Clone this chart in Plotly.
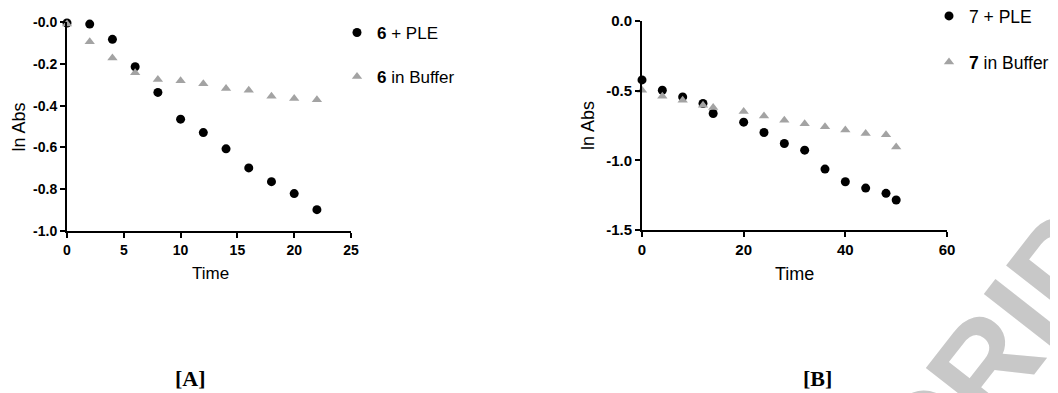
import plotly.graph_objects as go

# Panel A data
time_a = [0, 2, 4, 6, 8, 10, 12, 14, 16, 18, 20, 22]
ple_a = [-0.005, -0.01, -0.083, -0.214, -0.337, -0.465, -0.529, -0.607, -0.698, -0.764, -0.821, -0.898]
buf_a = [-0.01, -0.094, -0.172, -0.243, -0.275, -0.281, -0.296, -0.318, -0.326, -0.355, -0.366, -0.372]

# Panel B data
time_b = [0, 4, 8, 12, 14, 20, 24, 28, 32, 36, 40, 44, 48, 50]
ple_b = [-0.423, -0.497, -0.545, -0.592, -0.664, -0.726, -0.800, -0.879, -0.927, -1.063, -1.154, -1.199, -1.237, -1.285]
buf_b = [-0.497, -0.540, -0.568, -0.604, -0.621, -0.650, -0.681, -0.712, -0.738, -0.759, -0.783, -0.807, -0.817, -0.905]

xticks_a = [0, 5, 10, 15, 20, 25]
yticks_a = [0, -0.2, -0.4, -0.6, -0.8, -1.0]
yticklabels_a = ["-0.0", "-0.2", "-0.4", "-0.6", "-0.8", "-1.0"]
xticks_b = [0, 20, 40, 60]
yticks_b = [0, -0.5, -1.0, -1.5]
yticklabels_b = ["0.0", "-0.5", "-1.0", "-1.5"]

names = ["<b>6</b> + PLE", "<b>6</b> in Buffer", "7 + PLE", "<b>7</b> in Buffer"]

# the page body has an 8px margin; the figure fills the rest of the 1058x393 window
OFF = 8
W, H = 1058 - OFF, 393 - OFF
FONT = "Liberation Sans, Arial, sans-serif"
SERIF = "Liberation Serif, Times New Roman, serif"
GRAY = "#a3a3a3"


def px_x(p):
    return (p - OFF) / W


def px_y(p):
    return 1 - (p - OFF) / H


fig = go.Figure()

fig.add_trace(go.Scatter(x=time_a, y=ple_a, mode="markers", name=names[0],
                         marker=dict(symbol="circle", size=9, color="black"),
                         xaxis="x", yaxis="y", cliponaxis=False, legend="legend"))
fig.add_trace(go.Scatter(x=time_a, y=buf_a, mode="markers", name=names[1],
                         marker=dict(symbol="triangle-up", size=9, color=GRAY),
                         xaxis="x", yaxis="y", cliponaxis=False, legend="legend2"))
fig.add_trace(go.Scatter(x=time_b, y=ple_b, mode="markers", name=names[2],
                         marker=dict(symbol="circle", size=9, color="black"),
                         xaxis="x2", yaxis="y2", cliponaxis=False, legend="legend3"))
fig.add_trace(go.Scatter(x=time_b, y=buf_b, mode="markers", name=names[3],
                         marker=dict(symbol="triangle-up", size=9, color=GRAY),
                         xaxis="x2", yaxis="y2", cliponaxis=False, legend="legend4"))


def axis(tsize, **kw):
    d = dict(showline=True, linewidth=2, linecolor="black", ticks="outside",
             ticklen=5, tickwidth=2, tickcolor="black", showgrid=False,
             zeroline=False, mirror=False, automargin=False,
             tickfont=dict(family=FONT, size=tsize, color="black", weight="bold"))
    d.update(kw)
    return d


def leg(x, y, size):
    return dict(x=px_x(x), y=px_y(y), xanchor="left", yanchor="top",
                font=dict(size=size, family=FONT, color="black"),
                bgcolor="rgba(0,0,0,0)", borderwidth=0)


fig.update_layout(
    width=W, height=H,
    margin=dict(l=0, r=0, t=0, b=0, autoexpand=False),
    paper_bgcolor="white", plot_bgcolor="white",
    font=dict(family=FONT, color="black"),
    xaxis=axis(14, domain=[px_x(67), px_x(351)], range=[0, 25], tickvals=xticks_a, anchor="y"),
    yaxis=axis(14, domain=[px_y(231), px_y(22)], range=[-1.0, 0], tickvals=yticks_a,
               ticktext=yticklabels_a, anchor="x"),
    xaxis2=axis(15, domain=[px_x(642), px_x(947)], range=[0, 60], tickvals=xticks_b, anchor="y2"),
    yaxis2=axis(15, domain=[px_y(230), px_y(21)], range=[-1.5, 0], tickvals=yticks_b,
                ticktext=yticklabels_b, anchor="x2"),
    legend=leg(337, 15, 17),
    legend2=leg(337, 59, 17),
    legend3=leg(929, -2, 17.5),
    legend4=leg(929, 44, 17.5),
    showlegend=True,
)

# axis titles
for txt, x, y, ang, size in [("Time", 210, 273, 0, 17), ("ln Abs", 18.5, 127, -90, 18),
                             ("Time", 794, 274, 0, 18), ("ln Abs", 588, 126, -90, 18)]:
    fig.add_annotation(text=txt, x=px_x(x), y=px_y(y), xref="paper", yref="paper",
                       showarrow=False, xanchor="center", yanchor="middle", textangle=ang,
                       font=dict(family=FONT, size=size, color="black"))

fig.add_annotation(text="[A]", x=px_x(190), y=px_y(378), xref="paper", yref="paper",
                   showarrow=False, xanchor="center", yanchor="middle",
                   font=dict(family=SERIF, size=22, color="black", weight="bold"))
fig.add_annotation(text="[B]", x=px_x(817), y=px_y(378), xref="paper", yref="paper",
                   showarrow=False, xanchor="center", yanchor="middle",
                   font=dict(family=SERIF, size=22, color="black", weight="bold"))

# faint watermark
fig.add_annotation(text="ACCEPTED MANUSCRIPT", x=px_x(640), y=px_y(806), xref="paper",
                   yref="paper", showarrow=False, xanchor="center", yanchor="middle",
                   textangle=-52,
                   font=dict(family=FONT, size=130, color="#c8c8c8", weight="bold"))

fig.write_html("out.html")
